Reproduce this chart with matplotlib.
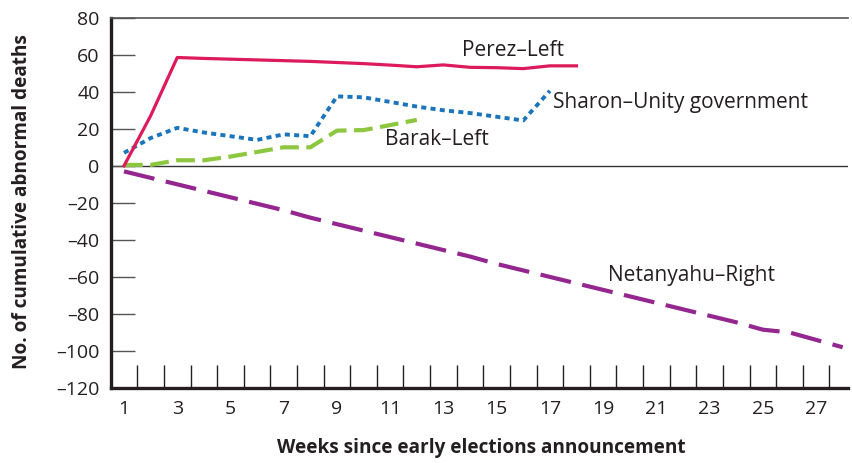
import matplotlib
matplotlib.use("Agg")
import matplotlib.pyplot as plt
from matplotlib.ticker import FixedLocator, NullFormatter

plt.rcParams['font.family'] = ['Open Sans', 'DejaVu Sans']

# ---- data ----
perez_weeks = list(range(1, 19))
perez_vals = [0, 27, 58.5, 58, 57.6, 57.2, 56.8, 56.4, 55.8, 55.2, 54.4, 53.5, 54.5, 53.2, 53, 52.5, 54, 54]

sharon_weeks = list(range(1, 18))
sharon_vals = [7, 15, 20.5, 18, 16, 14, 17, 16, 37.5, 37, 34.5, 32, 30, 28.5, 26.5, 24.5, 40.5]

barak_weeks = list(range(1, 13))
barak_vals = [0.5, 0.5, 3, 3, 5, 7.5, 10, 10, 19, 19.3, 22, 24.8]

net_weeks = list(range(1, 29))
net_vals = [-3, -6.5, -10, -13.5, -17, -20.5, -24, -28, -31.5, -35, -38.5, -42, -45.5,
            -49, -53, -56.5, -60, -63.5, -67, -70.5, -74, -77.5, -81, -84.5, -88.5,
            -90, -94, -98]

y_ticks = [-120, -100, -80, -60, -40, -20, 0, 20, 40, 60, 80]
x_label_weeks = list(range(1, 28, 2))
x_boundaries = [w + 0.5 for w in range(1, 28)]

series_labels = ["Perez\u2013Left", "Sharon\u2013Unity government", "Barak\u2013Left", "Netanyahu\u2013Right"]
x_title = "Weeks since early elections announcement"
y_title = "No. of cumulative abnormal deaths"

# ---- colors ----
c_perez = "#DD1A5A"
c_sharon = "#1B75BC"
c_barak = "#8DC63F"
c_net = "#93278F"

fig = plt.figure(figsize=(8.53, 4.63), dpi=100)
ax = fig.add_axes([110.7/853, 1-388/463, (848-110.7)/853, (388-17.7)/463])

ax.set_xlim(0.5, 28.2)
ax.set_ylim(-120, 80)

# zero line
ax.axhline(0, color="#333333", lw=1.0, zorder=1)

ax.plot(net_weeks, net_vals, color=c_net, lw=3.0, dashes=(7.5, 2.8), zorder=3, dash_capstyle='butt')
ax.plot(barak_weeks, barak_vals, color=c_barak, lw=3.0, dashes=(4.5, 1.8), zorder=3, dash_capstyle='butt')
ax.plot(sharon_weeks, sharon_vals, color=c_sharon, lw=2.8, dashes=(1.3, 1.1), zorder=4, dash_capstyle='butt')
ax.plot(perez_weeks, perez_vals, color=c_perez, lw=2.3, zorder=5)

# spines
for s in ['left', 'bottom']:
    ax.spines[s].set_linewidth(2.4)
    ax.spines[s].set_color("#231F20")
ax.spines['top'].set_linewidth(1.2)
ax.spines['top'].set_color("#555555")
ax.spines['right'].set_visible(False)

# y ticks
ax.set_yticks(y_ticks)
ax.set_yticklabels([("\u2013" + str(abs(v))) if v < 0 else str(v) for v in y_ticks])
ax.tick_params(axis='y', direction='in', length=17, width=1.0, color="#555555",
               labelsize=14, pad=8, labelcolor="#231F20")

# x ticks: labels at week centers, tick marks at week boundaries
ax.xaxis.set_major_locator(FixedLocator(x_label_weeks))
ax.set_xticklabels([str(w) for w in x_label_weeks])
ax.xaxis.set_minor_locator(FixedLocator(x_boundaries))
ax.xaxis.set_minor_formatter(NullFormatter())
ax.tick_params(axis='x', which='major', length=0, labelsize=14, pad=9, labelcolor="#231F20")
ax.tick_params(axis='x', which='minor', direction='in', length=16.5, width=1.0, color="#231F20")

# series labels
ax.text(13.7, 62.5, series_labels[0], fontsize=15, color="#231F20", ha='left', va='center')
ax.text(17.1, 34, series_labels[1], fontsize=15, color="#231F20", ha='left', va='center')
ax.text(10.8, 14, series_labels[2], fontsize=15, color="#231F20", ha='left', va='center')
ax.text(19.2, -59, series_labels[3], fontsize=15, color="#231F20", ha='left', va='center')

fig.text(481/853, 1-448/463, x_title, fontsize=13.7, fontweight='bold', ha='center', va='center', color="#231F20")
fig.text(22/853, 1-202/463, y_title, fontsize=13.7, fontweight='bold', ha='center', va='center', rotation=90, color="#231F20")

fig.savefig("out.png", dpi=100)
